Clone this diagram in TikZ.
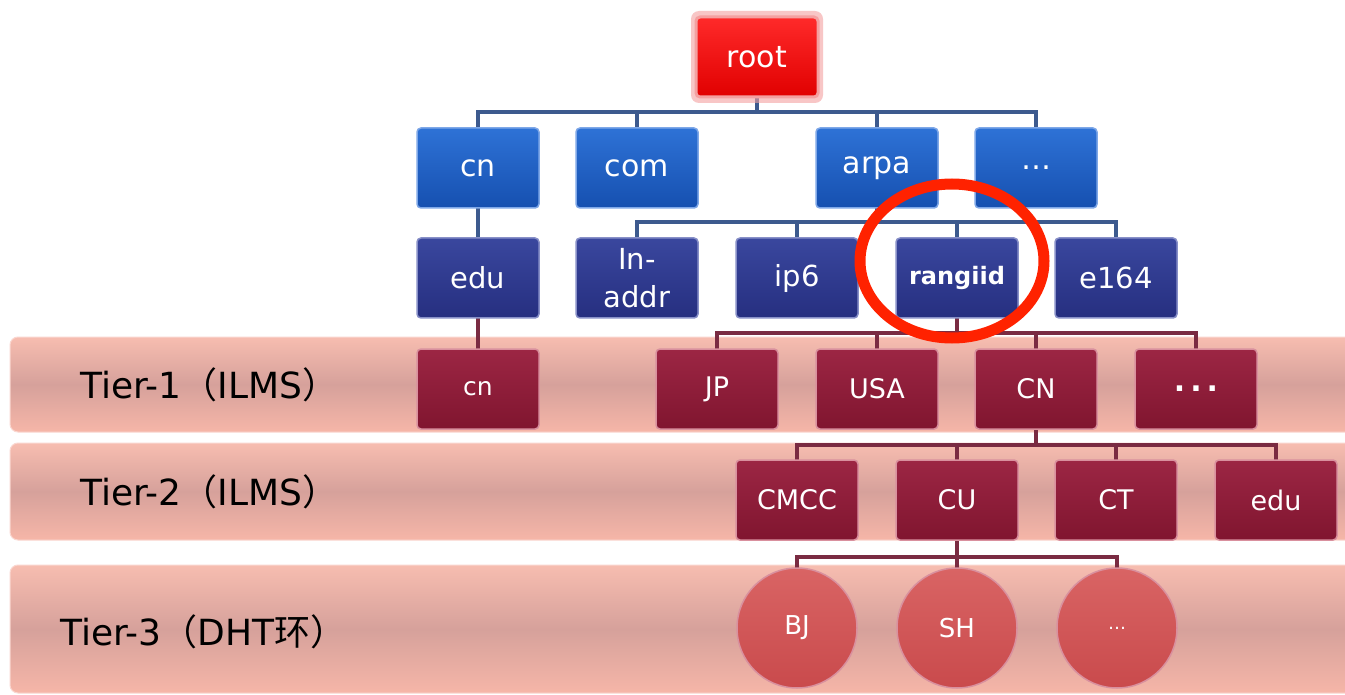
\documentclass[tikz,border=0pt]{standalone}
\usepackage{fontspec}
\setmainfont{DejaVu Sans}
\newfontfamily\cjkfont{Noto Sans CJK SC}
\usetikzlibrary{shadows}

\definecolor{rootT}{HTML}{FF2A2A}
\definecolor{rootB}{HTML}{E00000}
\definecolor{rootE}{HTML}{F4A0A0}
\definecolor{blueT}{HTML}{2E72D6}
\definecolor{blueB}{HTML}{1650B0}
\definecolor{blueE}{HTML}{7FA8E8}
\definecolor{navyT}{HTML}{3A479E}
\definecolor{navyB}{HTML}{262F80}
\definecolor{navyE}{HTML}{8890C8}
\definecolor{marT}{HTML}{9C2644}
\definecolor{marB}{HTML}{80152F}
\definecolor{marE}{HTML}{D9909E}
\definecolor{ballT}{HTML}{D96464}
\definecolor{ballB}{HTML}{C94A4C}
\definecolor{bandL}{HTML}{F7BDB0}
\definecolor{bandM}{HTML}{D6A19B}
\definecolor{bandB}{HTML}{F6B6A8}
\definecolor{blueline}{HTML}{3D5A8E}
\definecolor{marline}{HTML}{7A2B42}
\definecolor{ring}{HTML}{FF2200}

\newcommand\cjk[1]{{\cjkfont #1}}

\tikzset{
  box/.style={rectangle, rounded corners=4pt, minimum width=122pt,
    minimum height=80pt, inner sep=0pt, text=white, align=center,
    line width=1.5pt},
  rootbox/.style={box, top color=rootT, bottom color=rootB, draw=rootE,
    line width=3pt, font=\fontsize{30}{36}\selectfont},
  bluebox/.style={box, top color=blueT, bottom color=blueB, draw=blueE,
    font=\fontsize{30}{36}\selectfont},
  navybox/.style={box, top color=navyT, bottom color=navyB, draw=navyE,
    font=\fontsize{29}{38}\selectfont},
  marbox/.style={box, top color=marT, bottom color=marB, draw=marE,
    font=\fontsize{27}{32}\selectfont},
  ball/.style={circle, minimum size=120pt, inner sep=0pt, text=white,
    top color=ballT, bottom color=ballB, draw=marE, line width=1.5pt,
    font=\fontsize{26}{30}\selectfont},
  band/.style={rounded corners=8pt, top color=bandL, bottom color=bandB,
    middle color=bandM, draw=bandL!60!white, line width=1pt},
  tierlabel/.style={anchor=west, text=black, inner sep=0pt,
    font=\fontsize{36}{40}\selectfont},
  bconn/.style={draw=blueline, line width=4pt},
  mconn/.style={draw=marline, line width=4pt},
}

\begin{document}
\begin{tikzpicture}[x=1pt,y=-1pt]
\useasboundingbox[fill=white] (0,0) rectangle (1345,695);

% tier bands
\path[band] (10,337) rectangle (1360,432);
\path[band] (10,443) rectangle (1360,540);
\path[band] (10,565) rectangle (1360,693);
\node[tierlabel] (t1) at (80,385) {Tier-1\cjk{（}ILMS\cjk{）}};
\node[tierlabel] (t2) at (80,492) {Tier-2\cjk{（}ILMS\cjk{）}};
\node[tierlabel] (t3) at (60,632) {Tier-3\cjk{（}DHT\cjk{环）}};

% junction points of the tree
\coordinate (j0) at (757,112);
\coordinate (j1) at (877,222);
\coordinate (j2) at (957,333);
\coordinate (j3) at (1036,445);
\coordinate (j4) at (957,557);

% connectors (drawn under the nodes)
\draw[bconn] (757,57) -- (j0);
\draw[bconn] (j0) -| (478,168);
\draw[bconn] (j0) -| (637,168);
\draw[bconn] (j0) -| (877,168);
\draw[bconn] (j0) -| (1036,168);
\draw[bconn] (478,168) -- (478,278);
\draw[mconn] (478,278) -- (478,389);
\draw[bconn] (877,168) -- (j1);
\draw[bconn] (j1) -| (637,278);
\draw[bconn] (j1) -| (797,278);
\draw[bconn] (j1) -| (957,278);
\draw[bconn] (j1) -| (1116,278);
\draw[mconn] (957,278) -- (j2);
\draw[mconn] (j2) -| (717,389);
\draw[mconn] (j2) -| (877,389);
\draw[mconn] (j2) -| (1036,389);
\draw[mconn] (j2) -| (1196,389);
\draw[mconn] (1036,389) -- (j3);
\draw[mconn] (j3) -| (797,500);
\draw[mconn] (j3) -| (957,500);
\draw[mconn] (j3) -| (1116,500);
\draw[mconn] (j3) -| (1276,500);
\draw[mconn] (957,500) -- (j4);
\draw[mconn] (j4) -| (797,628);
\draw[mconn] (j4) -| (957,628);
\draw[mconn] (j4) -| (1117,628);

% soft glow behind the root box
\fill[rootE, opacity=0.6, rounded corners=8pt] (691,11) rectangle (823,103);

% root and top-level domains
\node[rootbox] (root) at (757,57) {root};
\node[bluebox] (cn) at (478,168) {cn};
\node[bluebox] (com) at (637,168) {com};
\node[bluebox] (arpa) at (877,168) {arpa};
\node[bluebox] (tldmore) at (1036,168) {…};

% second level
\node[navybox] (edu) at (478,278) {edu};
\node[navybox] (inaddr) at (637,278) {In-\\addr};
\node[navybox] (ip6) at (797,278) {ip6};
\node[navybox, font=\bfseries\fontsize{24}{30}\selectfont] (rangiid) at (957,278) {rangiid};
\node[navybox] (e164) at (1116,278) {e164};

% tier 1
\node[marbox, font=\fontsize{25}{30}\selectfont] (cn1) at (478,389) {cn};
\node[marbox] (jp) at (717,389) {JP};
\node[marbox] (usa) at (877,389) {USA};
\node[marbox] (cnt) at (1036,389) {CN};
\node[marbox, font=\bfseries\fontsize{30}{30}\selectfont] (t1more) at (1196,389) {.\,.\,.};

% tier 2
\node[marbox] (cmcc) at (797,500) {CMCC};
\node[marbox] (cu) at (957,500) {CU};
\node[marbox] (ct) at (1116,500) {CT};
\node[marbox] (edu2) at (1276,500) {edu};

% tier 3 ring members
\node[ball] (bj) at (797,628) {BJ};
\node[ball] (sh) at (957,628) {SH};
\node[ball, font=\fontsize{18}{20}\selectfont] (t3more) at (1117,628) {…};

% highlight ring
\draw[ring, line width=11pt] (952,261) ellipse [x radius=92pt, y radius=77pt];
\end{tikzpicture}
\end{document}
